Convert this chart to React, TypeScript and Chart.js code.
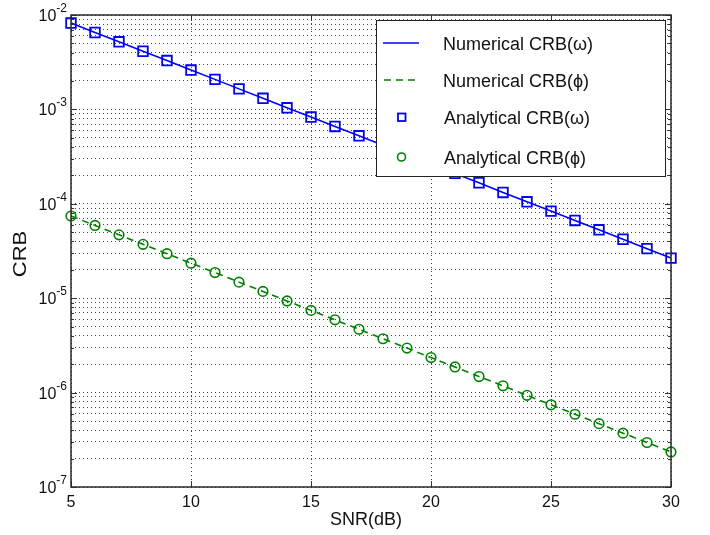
import React, { useEffect, useRef } from 'react';
import { Chart, registerables } from 'chart.js';

Chart.register(...registerables);

const snrDb = [5, 6, 7, 8, 9, 10, 11, 12, 13, 14, 15, 16, 17, 18, 19, 20, 21, 22, 23, 24, 25, 26, 27, 28, 29, 30];

const numericalOmega = [
  8.22e-3, 6.53e-3, 5.2e-3, 4.13e-3, 3.29e-3, 2.61e-3, 2.08e-3, 1.65e-3, 1.31e-3, 1.04e-3,
  8.3e-4, 6.6e-4, 5.25e-4, 4.17e-4, 3.32e-4, 2.64e-4, 2.1e-4, 1.67e-4, 1.32e-4, 1.05e-4,
  8.37e-5, 6.66e-5, 5.3e-5, 4.21e-5, 3.35e-5, 2.66e-5,
];
const numericalPhi = [
  7.43e-5, 5.9e-5, 4.69e-5, 3.72e-5, 2.96e-5, 2.35e-5, 1.87e-5, 1.48e-5, 1.18e-5, 9.35e-6,
  7.43e-6, 5.9e-6, 4.69e-6, 3.72e-6, 2.96e-6, 2.35e-6, 1.87e-6, 1.48e-6, 1.18e-6, 9.35e-7,
  7.43e-7, 5.9e-7, 4.69e-7, 3.72e-7, 2.96e-7, 2.35e-7,
];
const analyticalOmega = [
  8.22e-3, 6.53e-3, 5.2e-3, 4.13e-3, 3.29e-3, 2.61e-3, 2.08e-3, 1.65e-3, 1.31e-3, 1.04e-3,
  8.3e-4, 6.6e-4, 5.25e-4, 4.17e-4, 3.32e-4, 2.64e-4, 2.1e-4, 1.67e-4, 1.32e-4, 1.05e-4,
  8.37e-5, 6.66e-5, 5.3e-5, 4.21e-5, 3.35e-5, 2.66e-5,
];
const analyticalPhi = [
  7.43e-5, 5.9e-5, 4.69e-5, 3.72e-5, 2.96e-5, 2.35e-5, 1.87e-5, 1.48e-5, 1.18e-5, 9.35e-6,
  7.43e-6, 5.9e-6, 4.69e-6, 3.72e-6, 2.96e-6, 2.35e-6, 1.87e-6, 1.48e-6, 1.18e-6, 9.35e-7,
  7.43e-7, 5.9e-7, 4.69e-7, 3.72e-7, 2.96e-7, 2.35e-7,
];

const xTicks = [5, 10, 15, 20, 25, 30];
const yDecades = [-7, -6, -5, -4, -3, -2];
const minorMultipliers = [1, 2, 3, 4, 5, 6, 7, 8, 9];
const seriesLabels = ['Numerical CRB(ω)', 'Numerical CRB(ϕ)', 'Analytical CRB(ω)', 'Analytical CRB(ϕ)'];
const xTitle = 'SNR(dB)';
const yTitle = 'CRB';

const BLUE = '#0000ff';
const GREEN = '#008000';
const FONT = '"Liberation Sans", Arial, Helvetica, sans-serif';

const yGridValues: number[] = [];
for (let i = 0; i < yDecades.length - 1; i++) {
  for (const m of minorMultipliers) yGridValues.push(m * Math.pow(10, yDecades[i]));
}
yGridValues.push(Math.pow(10, yDecades[yDecades.length - 1]));

const toPoints = (ys: number[]) => snrDb.map((x, i) => ({ x, y: ys[i] }));

const decorPlugin = {
  id: 'decor',
  afterDatasetsDraw(chart: any) {
    const { ctx, chartArea: a, scales } = chart;
    const xs = scales.x;
    const ys = scales.y;
    const line = (x1: number, y1: number, x2: number, y2: number) => {
      ctx.beginPath();
      ctx.moveTo(x1, y1);
      ctx.lineTo(x2, y2);
      ctx.stroke();
    };
    ctx.save();
    ctx.setLineDash([]);
    // inward ticks
    ctx.strokeStyle = '#333';
    ctx.lineWidth = 1;
    for (const v of xTicks) {
      const px = Math.round(xs.getPixelForValue(v)) + 0.5;
      line(px, a.bottom, px, a.bottom - 6);
      line(px, a.top, px, a.top + 6);
    }
    for (const v of yGridValues) {
      const py = Math.round(ys.getPixelForValue(v)) + 0.5;
      const major = Math.abs(Math.log10(v) - Math.round(Math.log10(v))) < 1e-9;
      const len = major ? 6 : 3;
      line(a.left, py, a.left + len, py);
      line(a.right, py, a.right - len, py);
    }
    // box
    ctx.strokeStyle = '#2a2a2a';
    ctx.lineWidth = 1.5;
    ctx.strokeRect(a.left, a.top, a.right - a.left, a.bottom - a.top);

    // x tick labels
    ctx.fillStyle = '#111';
    ctx.font = `16px ${FONT}`;
    ctx.textAlign = 'center';
    ctx.textBaseline = 'alphabetic';
    for (const v of xTicks) {
      const px = xs.getPixelForValue(v);
      ctx.fillText(String(v), px, a.bottom + 20);
    }
    // y tick labels with superscripts
    for (const d of yDecades) {
      const py = ys.getPixelForValue(Math.pow(10, d));
      const exp = String(d);
      ctx.font = `12px ${FONT}`;
      const we = ctx.measureText(exp).width;
      ctx.font = `16px ${FONT}`;
      const wb = ctx.measureText('10').width;
      const right = a.left - 4;
      ctx.textAlign = 'left';
      ctx.fillText('10', right - we - wb, py + 6);
      ctx.font = `12px ${FONT}`;
      ctx.fillText(exp, right - we, py - 3);
    }
    // axis titles
    ctx.font = `18px ${FONT}`;
    ctx.textAlign = 'center';
    ctx.textBaseline = 'middle';
    ctx.fillText(xTitle, (a.left + a.right) / 2 - 5, 520);
    ctx.save();
    ctx.translate(21, (a.top + a.bottom) / 2 + 3);
    ctx.rotate(-Math.PI / 2);
    ctx.scale(1.22, 1);
    ctx.fillText(yTitle, 0, 0);
    ctx.restore();

    // legend box
    const lx = 376, ly = 20, lw = 289, lh = 156;
    ctx.fillStyle = '#fff';
    ctx.fillRect(lx, ly, lw, lh);
    ctx.strokeStyle = '#222';
    ctx.lineWidth = 1;
    ctx.strokeRect(lx + 0.5, ly + 0.5, lw, lh);
    const rows = [43, 80, 117, 157];
    ctx.strokeStyle = BLUE;
    ctx.lineWidth = 1.6;
    line(383, rows[0], 419, rows[0]);
    ctx.strokeStyle = GREEN;
    ctx.setLineDash([7, 5]);
    line(384, rows[1], 420, rows[1]);
    ctx.setLineDash([]);
    ctx.strokeStyle = BLUE;
    ctx.lineWidth = 1.8;
    ctx.strokeRect(398, rows[2] - 3.5, 7.5, 7.5);
    ctx.strokeStyle = GREEN;
    ctx.lineWidth = 1.6;
    ctx.beginPath();
    ctx.arc(401.5, rows[3], 4, 0, Math.PI * 2);
    ctx.stroke();
    ctx.fillStyle = '#111';
    ctx.font = `18px ${FONT}`;
    ctx.textAlign = 'left';
    ctx.textBaseline = 'alphabetic';
    const textX = [443, 443, 444, 444];
    seriesLabels.forEach((s, i) => ctx.fillText(s, textX[i], rows[i] + 7));
    ctx.restore();
  },
};

export default function App() {
  const ref = useRef<HTMLCanvasElement | null>(null);
  useEffect(() => {
    if (!ref.current) return;
    const gridDash = [1, 3];
    const chart = new Chart(ref.current, {
      type: 'line',
      data: {
        datasets: [
          {
            label: seriesLabels[0],
            data: toPoints(numericalOmega),
            borderColor: BLUE,
            borderWidth: 1.6,
            pointRadius: 0,
            fill: false,
            clip: false as any,
          },
          {
            label: seriesLabels[1],
            data: toPoints(numericalPhi),
            borderColor: GREEN,
            borderWidth: 1.6,
            borderDash: [7, 5],
            pointRadius: 0,
            fill: false,
            clip: false as any,
          },
          {
            label: seriesLabels[2],
            data: toPoints(analyticalOmega),
            showLine: false,
            borderColor: BLUE,
            backgroundColor: 'rgba(0,0,0,0)',
            pointStyle: 'rect',
            pointRadius: 6.8,
            pointBorderWidth: 1.8,
            pointBorderColor: BLUE,
            pointBackgroundColor: 'rgba(0,0,0,0)',
            clip: false as any,
          },
          {
            label: seriesLabels[3],
            data: toPoints(analyticalPhi),
            showLine: false,
            borderColor: GREEN,
            backgroundColor: 'rgba(0,0,0,0)',
            pointStyle: 'circle',
            pointRadius: 4.8,
            pointBorderWidth: 1.6,
            pointBorderColor: GREEN,
            pointBackgroundColor: 'rgba(0,0,0,0)',
            clip: false as any,
          },
        ],
      },
      options: {
        responsive: false,
        animation: false,
        devicePixelRatio: 1,
        layout: { padding: { left: 0, right: 39, top: 15, bottom: 0 } },
        plugins: { legend: { display: false }, tooltip: { enabled: false } },
        scales: {
          x: {
            type: 'linear',
            min: 5,
            max: 30,
            ticks: { display: false, stepSize: 5 },
            grid: { color: '#444', lineWidth: 1, drawTicks: false },
            border: { display: false, dash: gridDash },
            afterBuildTicks: (s: any) => {
              s.ticks = xTicks.map((v) => ({ value: v }));
            },
            afterFit: (s: any) => {
              s.height = 48;
            },
          },
          y: {
            type: 'logarithmic',
            min: Math.pow(10, yDecades[0]),
            max: Math.pow(10, yDecades[yDecades.length - 1]),
            ticks: { display: false },
            grid: { color: '#444', lineWidth: 1, drawTicks: false },
            border: { display: false, dash: gridDash },
            afterBuildTicks: (s: any) => {
              s.ticks = yGridValues.map((v) => ({ value: v }));
            },
            afterFit: (s: any) => {
              s.width = 71;
            },
          },
        },
      } as any,
      plugins: [decorPlugin],
    });
    return () => chart.destroy();
  }, []);
  return (
    <div style={{ position: 'absolute', left: 0, top: 0, width: 710, height: 535, background: '#fff' }}>
      <canvas ref={ref} width={710} height={535} style={{ width: 710, height: 535, display: 'block' }} />
    </div>
  );
}
